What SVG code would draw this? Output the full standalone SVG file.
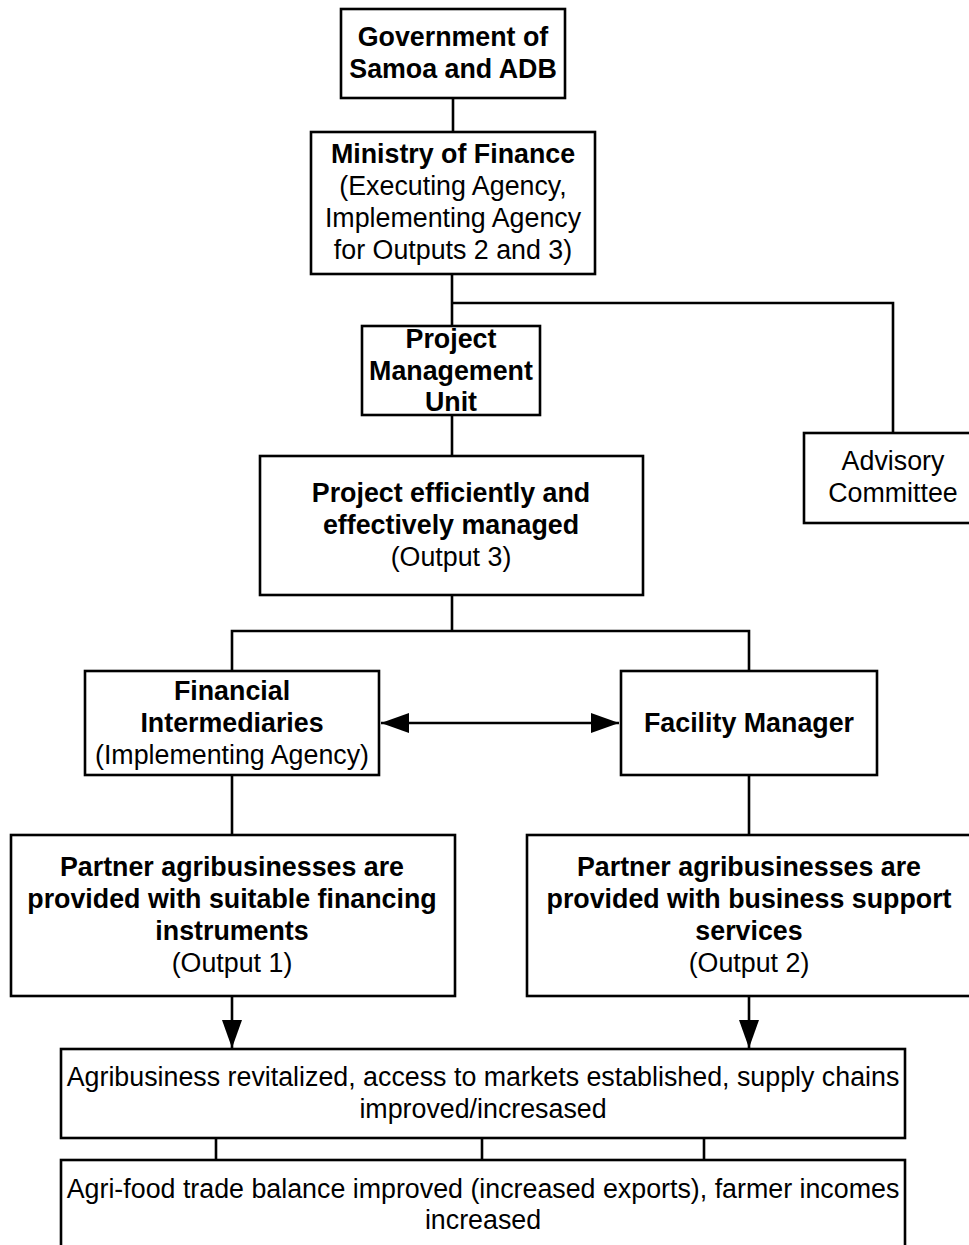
<svg xmlns="http://www.w3.org/2000/svg" width="969" height="1245" viewBox="0 0 969 1245">
<defs>
<style>
.box{fill:#fff;stroke:#000;stroke-width:2.6}
.ln{fill:none;stroke:#000;stroke-width:2.6}
text{font-family:"Liberation Sans",Arial,sans-serif;font-size:26.8px;fill:#000;text-anchor:middle}
.b{font-weight:bold}
</style>
<marker id="ah" markerWidth="28" markerHeight="20" refX="28" refY="10" orient="auto-start-reverse" markerUnits="userSpaceOnUse">
<path d="M0,0 L28,10 L0,20 Z" fill="#000"/>
</marker>
</defs>
<rect width="969" height="1245" fill="#fff"/>
<g id="connectors">
<path class="ln" d="M453,98 V132"/>
<path class="ln" d="M452,274 V326"/>
<path class="ln" d="M452,303 H893 V433"/>
<path class="ln" d="M452,415 V456"/>
<path class="ln" d="M452,595 V631 M232,671 V631 H749 V671"/>
<path class="ln" d="M381,723 H619" marker-start="url(#ah)" marker-end="url(#ah)"/>
<path class="ln" d="M232,775 V835"/>
<path class="ln" d="M749,775 V835"/>
<path class="ln" d="M232,996 V1048" marker-end="url(#ah)"/>
<path class="ln" d="M749,996 V1048" marker-end="url(#ah)"/>
<path class="ln" d="M216,1138 V1160 M482,1138 V1160 M704,1138 V1160"/>
</g>
<g id="gov">
<rect class="box" x="341" y="9" width="224" height="89"/>
<text class="b" x="453" y="46">Government of</text>
<text class="b" x="453" y="78">Samoa and ADB</text>
</g>
<g id="mof">
<rect class="box" x="311" y="132" width="284" height="142"/>
<text class="b" x="453" y="163">Ministry of Finance</text>
<text x="453" y="195">(Executing Agency,</text>
<text x="453" y="227">Implementing Agency</text>
<text x="453" y="259">for Outputs 2 and 3)</text>
</g>
<g id="pmu">
<rect class="box" x="362" y="326" width="178" height="89"/>
<text class="b" x="451" y="348">Project</text>
<text class="b" x="451" y="380">Management</text>
<text class="b" x="451" y="411">Unit</text>
</g>
<g id="advisory">
<rect class="box" x="804" y="433" width="180" height="90"/>
<text x="893" y="470">Advisory</text>
<text x="893" y="502">Committee</text>
</g>
<g id="output3">
<rect class="box" x="260" y="456" width="383" height="139"/>
<text class="b" x="451" y="502">Project efficiently and</text>
<text class="b" x="451" y="534">effectively managed</text>
<text x="451" y="566">(Output 3)</text>
</g>
<g id="fi">
<rect class="box" x="85" y="671" width="294" height="104"/>
<text class="b" x="232" y="700">Financial</text>
<text class="b" x="232" y="732">Intermediaries</text>
<text x="232" y="764">(Implementing Agency)</text>
</g>
<g id="fm">
<rect class="box" x="621" y="671" width="256" height="104"/>
<text class="b" x="749" y="732">Facility Manager</text>
</g>
<g id="output1">
<rect class="box" x="11" y="835" width="444" height="161"/>
<text class="b" x="232" y="876">Partner agribusinesses are</text>
<text class="b" x="232" y="908">provided with suitable financing</text>
<text class="b" x="232" y="940">instruments</text>
<text x="232" y="972">(Output 1)</text>
</g>
<g id="output2">
<rect class="box" x="527" y="835" width="446" height="161"/>
<text class="b" x="749" y="876">Partner agribusinesses are</text>
<text class="b" x="749" y="908">provided with business support</text>
<text class="b" x="749" y="940">services</text>
<text x="749" y="972">(Output 2)</text>
</g>
<g id="outcome">
<rect class="box" x="61" y="1049" width="844" height="89"/>
<text x="483" y="1086">Agribusiness revitalized, access to markets established, supply chains</text>
<text x="483" y="1118">improved/incresased</text>
</g>
<g id="impact">
<rect class="box" x="61" y="1160" width="844" height="95"/>
<text x="483" y="1198">Agri-food trade balance improved (increased exports), farmer incomes</text>
<text x="483" y="1229">increased</text>
</g>
</svg>
